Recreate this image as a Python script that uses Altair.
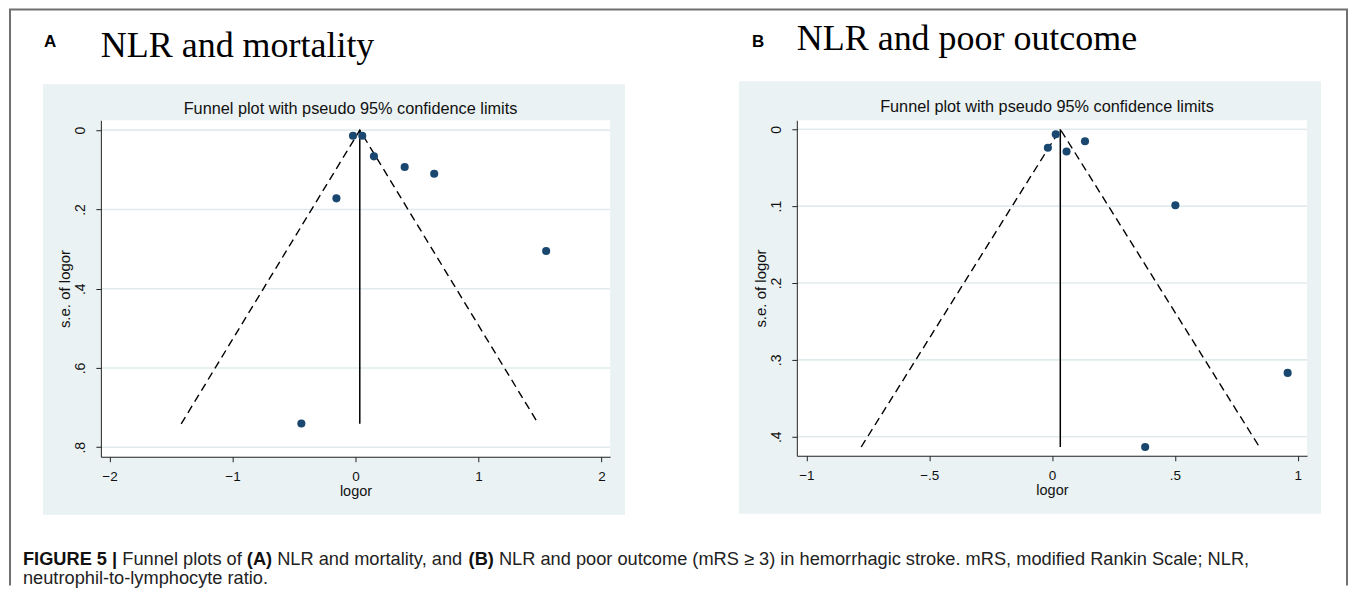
import altair as alt
import pandas as pd

# ---------------- data ----------------
# Panel A: NLR and mortality
a_logor = [-0.02, 0.055, 0.15, 0.40, 0.64, -0.155, 1.55, -0.44]
a_se = [0.014, 0.014, 0.066, 0.093, 0.110, 0.172, 0.305, 0.740]
a_funnel_x = [-1.417, 0.035, 1.487]
a_funnel_se = [0.741, 0.0, 0.741]
a_xticks = [-2, -1, 0, 1, 2]
a_yticks = [0, 0.2, 0.4, 0.6, 0.8]
a_xdomain = [-2.07, 2.07]
a_ydomain = [-0.025, 0.824]

# Panel B: NLR and poor outcome
b_logor = [0.015, -0.017, 0.059, 0.134, 0.502, 0.959, 0.379]
b_se = [0.0065, 0.024, 0.029, 0.0156, 0.0988, 0.317, 0.4134]
b_funnel_x = [-0.777, 0.0335, 0.844]
b_funnel_se = [0.4134, 0.0, 0.4134]
b_xticks = [-1, -0.5, 0, 0.5, 1]
b_yticks = [0, 0.1, 0.2, 0.3, 0.4]
b_xdomain = [-1.039, 1.038]
b_ydomain = [-0.0117, 0.4248]

panel_title = "Funnel plot with pseudo 95% confidence limits"
caption_line1 = [
    ("FIGURE 5 |", True),
    (" Funnel plots of ", False),
    ("(A)", True),
    (" NLR and mortality, and ", False),
    ("(B)", True),
    (" NLR and poor outcome (mRS \u2265 3) in hemorrhagic stroke. mRS, modified Rankin Scale; NLR,", False),
]
caption_line2 = "neutrophil-to-lymphocyte ratio."

# ---------------- styling ----------------
SANS = "Liberation Sans, Arial, Helvetica, sans-serif"
SERIF = "Liberation Serif, Times New Roman, serif"
BG = "#EAF2F3"
GRID = "#E1EBED"
NAVY = "#1A476F"
AX = "#222222"
TXT = "#111111"
LBL = "replace(format(datum.value, '~g'), '0.', '.')"

# Helvetica/Arial advance widths (1/1000 em) for caption layout
REG = {' ': 278, '(': 333, ')': 333, ',': 278, '-': 333, '.': 278, '|': 260, ';': 278,
       '0': 556, '1': 556, '2': 556, '3': 556, '4': 556, '5': 556, '6': 556, '7': 556, '8': 556, '9': 556,
       '\u2265': 549,
       'A': 667, 'B': 667, 'C': 722, 'D': 722, 'E': 667, 'F': 611, 'G': 778, 'H': 722, 'I': 278,
       'J': 500, 'K': 667, 'L': 556, 'M': 833, 'N': 722, 'O': 778, 'P': 667, 'Q': 778, 'R': 722,
       'S': 667, 'T': 611, 'U': 722, 'V': 667, 'W': 944, 'X': 667, 'Y': 667, 'Z': 611,
       'a': 556, 'b': 556, 'c': 500, 'd': 556, 'e': 556, 'f': 278, 'g': 556, 'h': 556, 'i': 222,
       'j': 222, 'k': 500, 'l': 222, 'm': 833, 'n': 556, 'o': 556, 'p': 556, 'q': 556, 'r': 333,
       's': 500, 't': 278, 'u': 556, 'v': 500, 'w': 722, 'x': 500, 'y': 500, 'z': 500}
BOLD = dict(REG)
BOLD.update({'|': 280, 'A': 722, 'B': 722, 'R': 722, 'U': 722, 'G': 778, 'F': 611, 'I': 278, 'E': 667,
             '5': 556, '(': 333, ')': 333, ' ': 278})


def em_width(s, bold):
    t = BOLD if bold else REG
    return sum(t.get(c, 556) for c in s) / 1000.0


CAP_X0 = -78          # caption left, relative to panel A plot area
CAP_WIDTH = 1228      # measured pixel length of caption line 1
total_em = sum(em_width(s, b) for s, b in caption_line1)
CAP_FS = CAP_WIDTH / total_em

rows = []
cursor = CAP_X0
for s, b in caption_line1:
    lead = len(s) - len(s.lstrip(' '))
    rows.append({"t": s.strip(), "px": cursor + em_width(' ' * lead, b) * CAP_FS, "bold": b, "py": 445})
    cursor += em_width(s, b) * CAP_FS
rows.append({"t": caption_line2, "px": CAP_X0, "bold": False, "py": 464})
cap_df = pd.DataFrame(rows)

one = alt.Data(values=[{}])


def panel(logor, se, fx, fse, xticks, yticks, xdom, ydom, W, H, box, title_y,
          letter, letter_x, heading, heading_y, extras=()):
    xs = alt.Scale(domain=xdom, nice=False, zero=False)
    ys = alt.Scale(domain=ydom, nice=False, zero=False, reverse=True)
    common = dict(tickSize=5, tickColor=AX, domainColor=AX, tickWidth=1, domainWidth=1,
                  labelFont=SANS, titleFont=SANS, labelColor=TXT, titleColor=TXT,
                  titleFontWeight="normal", grid=False,
                  zindex=1, labelExpr=LBL, labelFlush=False, labelOverlap=False)
    xaxis = alt.Axis(values=xticks, labelPadding=8, titlePadding=1, labelFontSize=13.5,
                     titleFontSize=14.5, **common)
    yaxis = alt.Axis(values=yticks, labelAngle=270, labelAlign="center", labelBaseline="bottom",
                     labelPadding=8, titlePadding=1, labelFontSize=14, titleFontSize=15, **common)

    def X(f):
        return alt.X(f, type="quantitative", scale=xs, axis=xaxis, title="logor")

    def Y(f):
        return alt.Y(f, type="quantitative", scale=ys, axis=yaxis, title="s.e. of logor")

    pts = pd.DataFrame({"x": logor, "y": se})
    fun = pd.DataFrame({"x": fx, "y": fse, "o": list(range(len(fx)))})
    vline = pd.DataFrame({"x": [fx[1]], "y": [fse[1]], "y2": [fse[0]]})
    grid = pd.DataFrame({"y": yticks})

    bg = alt.Chart(one).mark_rect(color=BG).encode(
        x=alt.value(box[0]), x2=alt.value(box[1]), y=alt.value(box[2]), y2=alt.value(box[3]))
    white = alt.Chart(one).mark_rect(color="white").encode(
        x=alt.value(0), x2=alt.value(W), y=alt.value(0), y2=alt.value(H))
    gridl = alt.Chart(grid).mark_rule(color=GRID, strokeWidth=1.6).encode(
        y=Y("y"), x=alt.value(0), x2=alt.value(W))
    funnel = alt.Chart(fun).mark_line(color="black", strokeDash=[8, 5], strokeWidth=1.4).encode(
        x=X("x"), y=Y("y"), order="o:Q")
    vl = alt.Chart(vline).mark_rule(color="black", strokeWidth=1.5).encode(
        x=X("x"), y=Y("y"), y2="y2")
    points = alt.Chart(pts).mark_circle(size=66, color=NAVY, opacity=1).encode(x=X("x"), y=Y("y"))
    ptitle = alt.Chart(one).mark_text(text=panel_title, font=SANS, fontSize=16.3, color=TXT,
                                      align="center", baseline="middle").encode(
        x=alt.value(W / 2 - 5), y=alt.value(title_y))
    let = alt.Chart(one).mark_text(text=letter, font=SANS, fontSize=17, fontWeight="bold",
                                   color="black", align="left", baseline="alphabetic").encode(
        x=alt.value(letter_x), y=alt.value(-73))
    head = alt.Chart(one).mark_text(text=heading, font=SERIF, fontSize=36, color="black",
                                    align="left", baseline="alphabetic").encode(
        x=alt.value(0), y=alt.value(heading_y))
    return alt.layer(bg, white, gridl, funnel, vl, points, ptitle, let, head, *extras).properties(
        width=W, height=H)


FRAME = "#707070"
FR_BOTTOM = 466
frame_left = alt.Chart(one).mark_rule(color=FRAME, strokeWidth=2).encode(
    x=alt.value(-91), y=alt.value(-111), y2=alt.value(FR_BOTTOM))
frame_top = alt.Chart(one).mark_rule(color=FRAME, strokeWidth=2).encode(
    x=alt.value(-92), x2=alt.value(1249), y=alt.value(-111))
frame_right = alt.Chart(one).mark_rule(color=FRAME, strokeWidth=2).encode(
    x=alt.value(1248), y=alt.value(-111), y2=alt.value(FR_BOTTOM))

cap_reg = alt.Chart(cap_df).transform_filter("!datum.bold").mark_text(
    font=SANS, fontSize=CAP_FS, color="#222222", align="left", baseline="alphabetic").encode(
    x=alt.X("px:Q", scale=None), y=alt.Y("py:Q", scale=None), text="t:N")
cap_bold = alt.Chart(cap_df).transform_filter("datum.bold").mark_text(
    font=SANS, fontSize=CAP_FS, fontWeight="bold", color="#111111", align="left",
    baseline="alphabetic").encode(
    x=alt.X("px:Q", scale=None), y=alt.Y("py:Q", scale=None), text="t:N")

chartA = panel(a_logor, a_se, a_funnel_x, a_funnel_se, a_xticks, a_yticks, a_xdomain, a_ydomain,
               510, 337, (-58, 525, -36, 395), -11.5, "A", -57, "NLR and mortality", -63,
               extras=(frame_left, frame_top, frame_right, cap_reg, cap_bold))
chartB = panel(b_logor, b_se, b_funnel_x, b_funnel_se, b_xticks, b_yticks, b_xdomain, b_ydomain,
               511, 336, (-58, 525, -39, 394), -13, "B", -45, "NLR and poor outcome", -70)

chart = alt.hconcat(chartA, chartB, spacing=187, bounds="flush", padding=0,
                    background="white").configure_view(stroke=None)

chart.save("out.html", embed_options={"renderer": "svg", "actions": False})
